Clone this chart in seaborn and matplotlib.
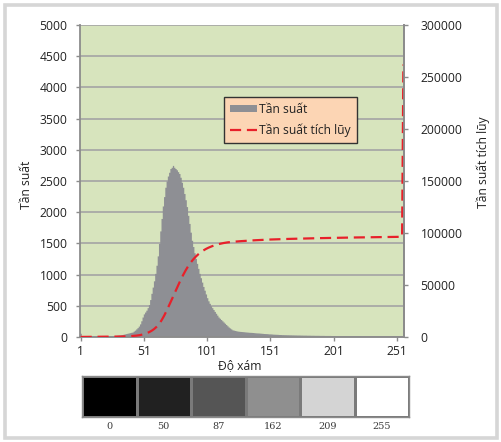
import numpy as np
import matplotlib
matplotlib.use("Agg")
import matplotlib.pyplot as plt
from matplotlib.patches import Patch, Rectangle
from matplotlib.lines import Line2D
from matplotlib.colors import ListedColormap, BoundaryNorm
import seaborn as sns

# tan suat cho tung muc xam 1..256 (doc tu bieu do)
freq_1_40 = [60, 10, 5, 5, 5, 5, 5, 5, 5, 5, 5, 5, 5, 5, 5, 5, 5, 5, 5, 5,
             8, 10, 12, 14, 16, 18, 20, 22, 25, 28,
             30, 33, 36, 40, 45, 50, 55, 60, 65, 70]
freq_41_80 = [75, 80, 95, 110, 130, 150, 175, 210, 260, 320,
              370, 400, 430, 470, 520, 600, 700, 800, 900, 1020,
              1150, 1300, 1500, 1700, 1900, 2100, 2250, 2400, 2500, 2580,
              2640, 2700, 2720, 2750, 2720, 2700, 2680, 2650, 2620, 2560]
freq_81_120 = [2480, 2400, 2300, 2200, 2090, 1950, 1820, 1680, 1550, 1450,
               1350, 1260, 1180, 1100, 1020, 950, 880, 810, 750, 690,
               630, 580, 540, 500, 470, 440, 410, 380, 350, 320,
               300, 280, 260, 240, 220, 200, 180, 160, 145, 130]
freq_121_160 = [115, 110, 105, 100, 95, 92, 90, 88, 86, 84,
                82, 80, 78, 76, 75, 74, 72, 70, 68, 66,
                65, 64, 62, 60, 58, 56, 55, 54, 52, 50,
                50, 48, 46, 45, 44, 43, 42, 40, 40, 38]
freq_161_200 = [38, 37, 37, 36, 36, 35, 35, 34, 34, 33,
                33, 32, 32, 32, 31, 31, 30, 30, 30, 29,
                29, 29, 28, 28, 28, 27, 27, 27, 27, 26,
                26, 26, 26, 25, 25, 25, 25, 25, 24, 24]
freq_201_256 = [24, 24, 23, 23, 23, 23, 22, 22, 22, 22,
                22, 21, 21, 21, 21, 21, 20, 20, 20, 20,
                20, 20, 19, 19, 19, 19, 19, 19, 18, 18,
                18, 18, 18, 18, 18, 17, 17, 17, 17, 17,
                17, 17, 17, 16, 16, 16, 16, 16, 16, 16,
                16, 16, 16, 16, 16, 700]
freq = freq_1_40 + freq_41_80 + freq_81_120 + freq_121_160 + freq_161_200 + freq_201_256
levels = list(range(1, len(freq) + 1))

# diem cuoi cua duong tich luy (doc tu bieu do)
cum_last = 262000

x_ticks = [1, 51, 101, 151, 201, 251]
left_ticks = [0, 500, 1000, 1500, 2000, 2500, 3000, 3500, 4000, 4500, 5000]
right_ticks = [0, 50000, 100000, 150000, 200000, 250000, 300000]
strip_values = [0, 50, 87, 162, 209, 255]
# mau cua tung o trong dai xam (nhu tren hinh in)
strip_colors = ['#000000', '#212121', '#555555', '#8f8f8f', '#d4d4d4', '#ffffff']

cum_freq = np.cumsum(freq).astype(float)
cum_freq[-1] = cum_last

sns.set_style("white")
plt.rcParams['font.family'] = ['Open Sans', 'DejaVu Sans']

bar_color = '#8e8f94'
red = '#e8202a'
axis_gray = '#8c8c8c'
text_color = '#222222'

fig = plt.figure(figsize=(5.01, 4.42), dpi=100)
W, H = 501, 442

# khung vien ngoai
fig.patches.append(Rectangle((4.5 / W, 4.5 / H), 492 / W, 433 / H, transform=fig.transFigure,
                             fill=False, edgecolor='#d6d6d6', linewidth=2.6))

ax = fig.add_axes([80 / W, 1 - 337 / H, 324 / W, 312 / H])
ax.set_facecolor('#d7e4bd')
sns.histplot(x=levels, weights=freq, discrete=True, element='step', fill=True,
             color=bar_color, alpha=1, linewidth=0, ax=ax)
ax.set_xlim(0.5, 256.5)
ax.set_ylim(0, 5000)
ax.set_yticks(left_ticks)
ax.set_xticks(x_ticks)
ax.set_axisbelow(True)
ax.yaxis.grid(True, color='#a4a4a4', linewidth=1.2)
ax.xaxis.grid(False)
ax.set_xlabel('')
ax.set_ylabel('')
for s in ['left', 'bottom', 'right']:
    ax.spines[s].set_color(axis_gray)
    ax.spines[s].set_linewidth(1.3)
ax.spines['top'].set_visible(False)
ax.tick_params(axis='y', left=True, length=3, width=1, color=axis_gray, pad=6,
               labelsize=8.7, labelcolor=text_color)
ax.tick_params(axis='x', bottom=True, length=3, width=1, color=axis_gray, pad=3,
               labelsize=8.7, labelcolor=text_color)

ax2 = ax.twinx()
sns.lineplot(x=levels, y=cum_freq, ax=ax2, color=red, linewidth=1.6,
             linestyle=(0, (5, 2.6)))
ax2.set_ylim(0, 300000)
ax2.set_yticks(right_ticks)
ax2.set_yticklabels([str(v) for v in right_ticks])
ax2.set_ylabel('')
for s in ['left', 'bottom', 'top']:
    ax2.spines[s].set_visible(False)
ax2.spines['right'].set_color(axis_gray)
ax2.spines['right'].set_linewidth(1.3)
ax2.tick_params(axis='y', right=True, length=3, width=1, color=axis_gray, pad=9,
                labelsize=8.7, labelcolor=text_color)

handles = [Patch(facecolor=bar_color, edgecolor='none'),
           Line2D([0], [0], color=red, linewidth=1.6, linestyle=(0, (5, 2.6)))]
leg = ax2.legend(handles, ['Tần suất', 'Tần suất tích lũy'], loc='upper left',
                 bbox_to_anchor=((224 - 80) / 324, (337 - 97) / 312), borderaxespad=0,
                 fontsize=8.7, frameon=True, fancybox=False, framealpha=1,
                 facecolor='#fcd5b4', edgecolor='#333333', handlelength=2.2,
                 handleheight=0.5, handletextpad=0.2, labelspacing=0.6,
                 borderpad=0.5)
leg.get_frame().set_linewidth(1.0)
for t in leg.get_texts():
    t.set_color(text_color)

fig.text(26 / W, 1 - 185 / H, 'Tần suất', rotation=90, ha='center', va='center',
         fontsize=8.7, color=text_color)
fig.text(483 / W, 1 - 162 / H, 'Tần suất tích lũy', rotation=90, ha='center', va='center',
         fontsize=8.7, color=text_color)
fig.text(240 / W, 1 - 366 / H, 'Độ xám', ha='center', va='center',
         fontsize=8.7, color=text_color)

# dai muc xam ben duoi
bounds = [-1] + [(a + b) / 2 for a, b in zip(strip_values[:-1], strip_values[1:])] + [256]
ax3 = fig.add_axes([82 / W, 1 - 417 / H, 327 / W, 41 / H])
sns.heatmap(np.array([strip_values]), cmap=ListedColormap(strip_colors),
            norm=BoundaryNorm(bounds, len(strip_colors)), cbar=False,
            linewidths=1, linecolor='#7a7a7a', xticklabels=strip_values,
            yticklabels=False, ax=ax3)
for s in ax3.spines.values():
    s.set_visible(True)
    s.set_color('#8a8a8a')
    s.set_linewidth(1.0)
ax3.tick_params(axis='x', length=0, pad=3.5, labelsize=7, labelcolor='#3a3a3a', rotation=0)
for t in ax3.get_xticklabels():
    t.set_family('DejaVu Serif')

fig.savefig('out.png', dpi=100)
